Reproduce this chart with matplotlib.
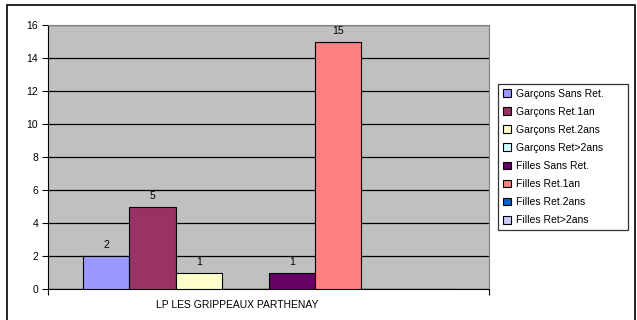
import matplotlib.pyplot as plt
from matplotlib.patches import Rectangle
from matplotlib.transforms import ScaledTranslation

plt.rcParams['font.family'] = ['Liberation Sans', 'DejaVu Sans']

category = "LP LES GRIPPEAUX PARTHENAY"
series = ["Garçons Sans Ret.", "Garçons Ret.1an", "Garçons Ret.2ans",
          "Garçons Ret>2ans", "Filles Sans Ret.", "Filles Ret.1an",
          "Filles Ret.2ans", "Filles Ret>2ans"]
values = [2, 5, 1, 0, 1, 15, 0, 0]
colors = ["#9999FF", "#993366", "#FFFFCC", "#CCFFFF",
          "#660066", "#FF8080", "#0066CC", "#CCCCFF"]

fig = plt.figure(figsize=(6.37, 3.2), dpi=100)
ax = fig.add_axes([48 / 637, 1 - 289 / 320, 441 / 637, 264 / 320])
ax.set_facecolor("#C0C0C0")

# excel-style clustered bars, gap width 150%
n = len(values)
width = 1 / (n + 1.5)
start = -0.5 + 0.75 * width
for i, (name, v, c) in enumerate(zip(series, values, colors)):
    x = start + i * width + width / 2
    ax.bar(x, v, width=width, color=c, edgecolor="black", linewidth=0.8,
           label=name, zorder=3)
    if v:
        ax.text(x, v + 0.35, str(v), ha="center", va="bottom", fontsize=7.5)

ax.set_xlim(-0.5, 0.5)
ax.set_ylim(0, 16)
ax.set_yticks(range(0, 17, 2))
ax.yaxis.grid(True, color="black", linewidth=0.9, zorder=1)
ax.set_axisbelow(True)
ax.tick_params(axis="y", labelsize=7.5, length=4, width=0.8, direction="out", pad=3)

ax.set_xticks([-0.5, 0.5], minor=True)
ax.set_xticks([0])
ax.set_xticklabels([category], fontsize=7.5)
ax.tick_params(axis="x", which="major", length=0, pad=8)
ax.tick_params(axis="x", which="minor", length=4, width=0.8, direction="out")
for lbl in ax.get_xticklabels():
    lbl.set_transform(lbl.get_transform() + ScaledTranslation(-0.31, 0, fig.dpi_scale_trans))

for s in ["top", "right"]:
    ax.spines[s].set_color("#808080")
    ax.spines[s].set_linewidth(0.8)
ax.spines["left"].set_color("black")
ax.spines["bottom"].set_color("black")

leg = fig.legend(loc="center left",
                 bbox_to_anchor=(498 / 637, 1 - 229 / 320, 130 / 637, 144 / 320),
                 mode="expand", fontsize=7.5, frameon=True, fancybox=False,
                 edgecolor="black", handlelength=0.75, handleheight=0.75,
                 handletextpad=0.5, labelspacing=0.78, borderpad=0.45,
                 borderaxespad=0)
leg.get_frame().set_linewidth(0.9)

# outer chart border
fig.patches.append(Rectangle((7 / 637, -0.02), 628 / 637, 1.02 - 5 / 320,
                             transform=fig.transFigure, fill=False,
                             edgecolor="black", linewidth=1.2))

plt.savefig("out.png", dpi=100)
